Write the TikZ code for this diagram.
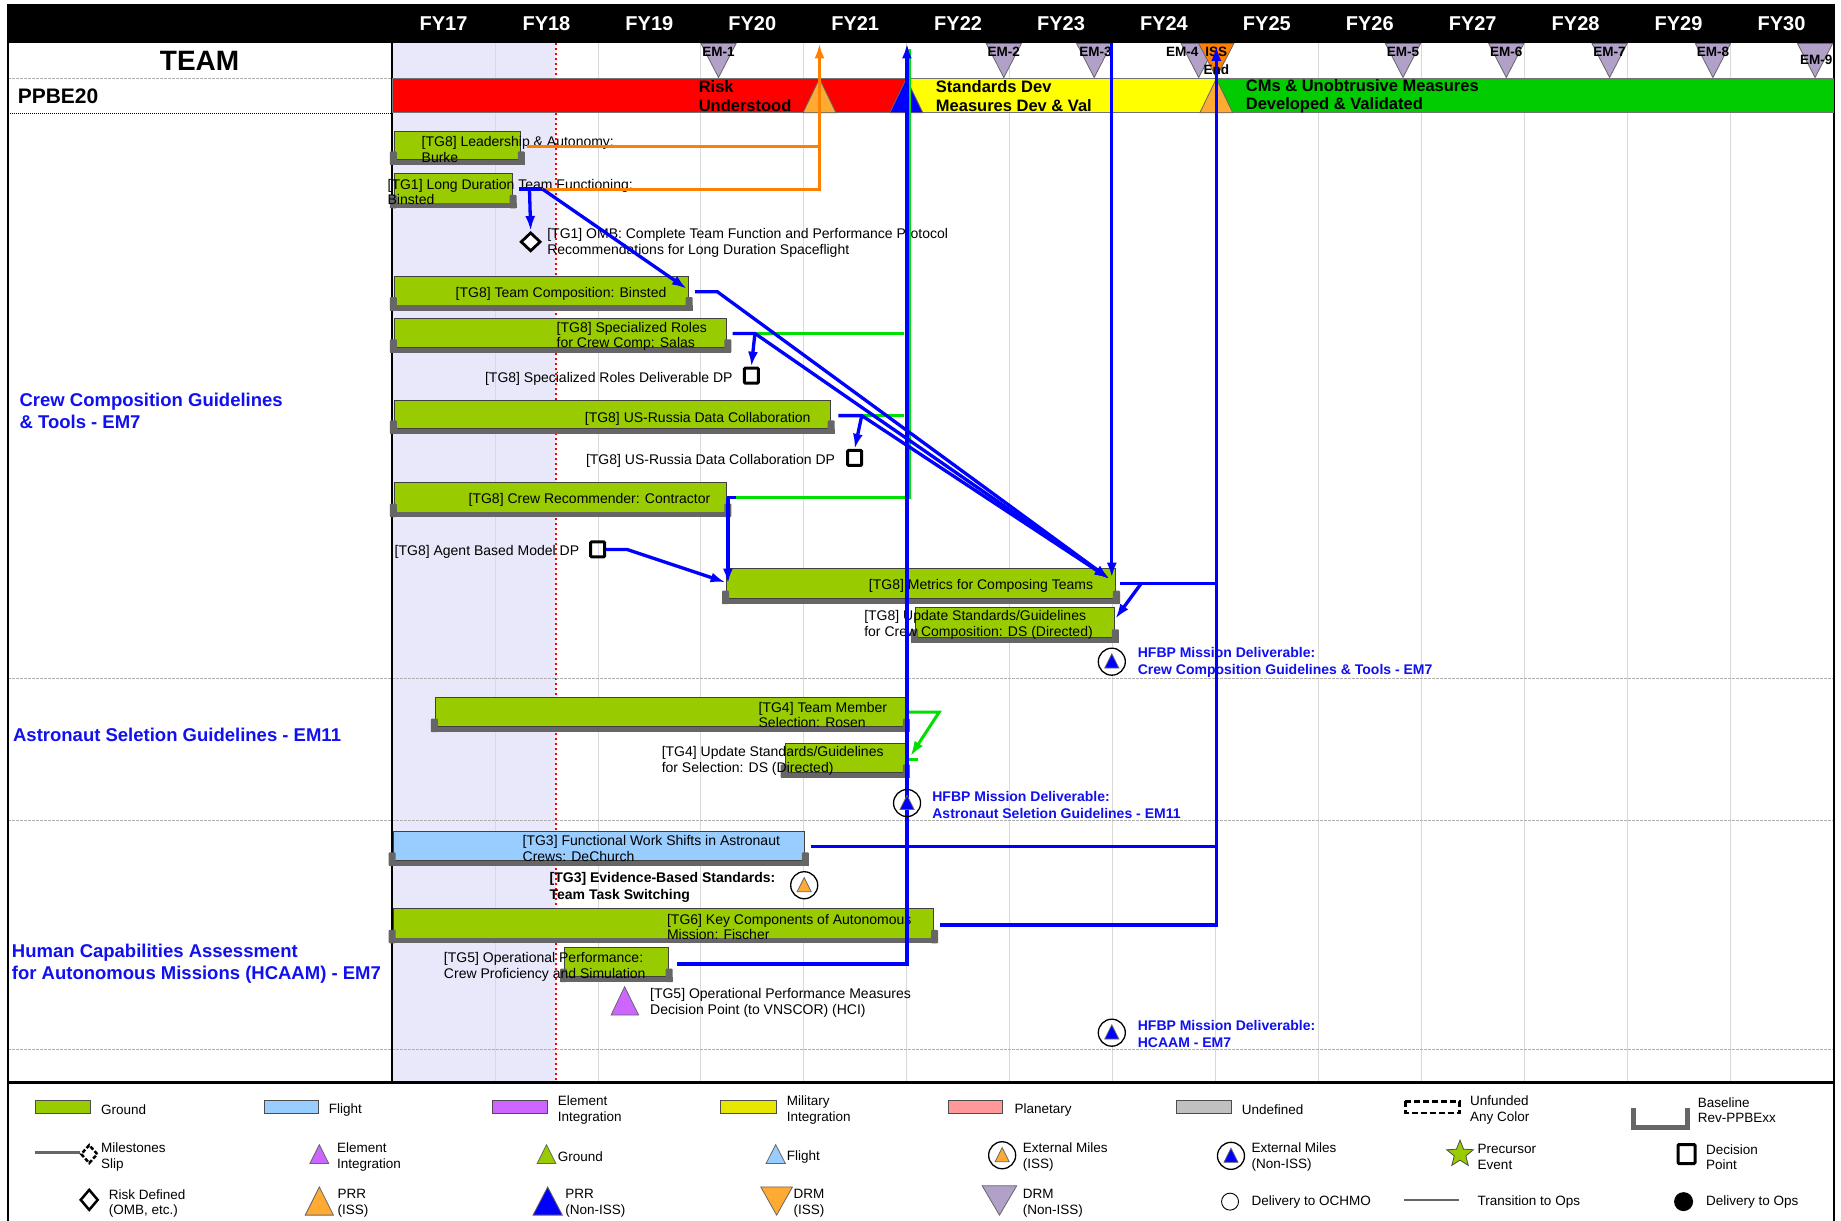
\documentclass[tikz,border=0pt]{standalone}
\usepackage{fontspec}
\setmainfont{Liberation Sans}
\usetikzlibrary{arrows.meta,shapes.geometric,fit,calc}
\definecolor{gnd}{HTML}{99CC00}
\definecolor{flt}{HTML}{99CCFF}
\definecolor{elem}{HTML}{CC66FF}
\definecolor{mil}{HTML}{E6E600}
\definecolor{plan}{HTML}{FF9999}
\definecolor{undef}{HTML}{C0C0C0}
\definecolor{basegray}{HTML}{666666}
\definecolor{lilac}{HTML}{B1A0C7}
\definecolor{prro}{HTML}{FFAA33}
\definecolor{issend}{HTML}{FF8000}
\definecolor{lav}{HTML}{E8E8FA}
\definecolor{conblue}{HTML}{0000FF}
\definecolor{congreen}{HTML}{00E000}
\definecolor{conorange}{HTML}{FF8000}
\definecolor{barred}{HTML}{FF0000}
\definecolor{baryel}{HTML}{FFFF00}
\definecolor{bargrn}{HTML}{00CC00}
\definecolor{hfblue}{HTML}{1010F0}
\definecolor{gridc}{HTML}{D9D9D9}
\definecolor{secline}{HTML}{B0B0B0}
\newcommand\taskbar[6]{%
  \node[fit={(#2,#3) (#4,#5)}, inner sep=0pt, fill=#6, draw=black!75, line width=0.7pt] (#1) {};
  \fill[basegray, rounded corners=1pt] (#2-4,#5-7) rectangle (#2+2,#5+4.5);
  \fill[basegray, rounded corners=1pt] (#4-2,#5-7) rectangle (#4+4,#5+4.5);
  \fill[basegray] (#2-4,#5) rectangle (#4+4,#5+4.5);
}
\begin{document}
\begin{tikzpicture}[x=1.174pt,y=-1.174pt,
 tbase/.style={font=\fontsize{14}{15.8}\selectfont, inner sep=0pt, anchor=west, align=left},
 tx/.style={tbase, yshift=-1.8pt},
 tb/.style={tx, font=\bfseries\fontsize{14}{16.5}\selectfont},
 hf/.style={tbase, font=\bfseries\fontsize{14}{17}\selectfont, text=hfblue},
 sec/.style={tbase, font=\bfseries\fontsize{18.5}{21.5}\selectfont, text=hfblue},
 bart/.style={tbase, font=\bfseries\fontsize{16.5}{18.8}\selectfont},
 fy/.style={font=\bfseries\fontsize{20}{24}\selectfont, text=white, inner sep=0pt},
 em/.style={font=\bfseries\fontsize{13.5}{14}\selectfont, inner sep=0pt},
 lg/.style={tbase, font=\fontsize{13.5}{15.3}\selectfont},
 bl/.style={draw=conblue, line width=3.3pt},
 bla/.style={bl, -{Latex[length=15pt,width=10pt]}},
 gl/.style={draw=congreen, line width=3pt},
 gla/.style={gl, -{Latex[length=15pt,width=10pt]}},
 ol/.style={draw=conorange, line width=3pt},
 ola/.style={ol, -{Latex[length=15pt,width=10pt]}},
 dpt/.style={draw, line width=3pt, minimum width=14pt, minimum height=15pt, inner sep=0pt, rounded corners=1pt},
 extm/.style={circle, draw, line width=1.3pt, minimum size=27pt, inner sep=0pt, fill=white},
 swatch/.style={draw=black!70, line width=0.8pt, inner sep=0pt},
 tri/.style={draw=black!60, line width=0.8pt}
]
\useasboundingbox (0,0) rectangle (1568.1,1039.2);
\fill[white] (0,0) rectangle (1568.1,1039.2);
% ---------- background ----------
\fill[lav] (334,37) rectangle (474,922);
\foreach \k in {1,...,13} \draw[gridc, line width=0.9pt] (334+\k*87.66,37) -- (334+\k*87.66,922);
\draw[red, line width=2pt, dash pattern=on 2pt off 3pt] (474,37) -- (474,922);
\foreach \yy in {67,578,699,894} \draw[secline, line width=1.5pt, dash pattern=on 3pt off 1pt] (7,\yy) -- (1562,\yy);
\draw[black, line width=1pt, dash pattern=on 1pt off 1pt] (7,97) -- (334,97);
% ---------- header ----------
\fill[black] (6,3) rectangle (1563,37);
\foreach \i [count=\k from 0] in {17,...,30} \node[fy] (fy\i) at (377.8+\k*87.66,20) {FY\i};
\draw[line width=1.5pt] (7,37) -- (7,1040);
\draw[line width=1.5pt] (1562,37) -- (1562,1040);
\draw[line width=2.5pt] (334,37) -- (334,922);
\draw[line width=2.5pt] (7,922) -- (1562,922);
\node[font=\bfseries\fontsize{28}{30}\selectfont, inner sep=0pt] (team) at (170,52) {TEAM};
\node[tbase, font=\bfseries\fontsize{21}{24}\selectfont] (ppbe) at (15,82) {PPBE20};
% ---------- milestones ----------
\foreach \x in {612,855,932,1021,1195,1283,1371,1459,1546}
  \draw[tri, fill=lilac] (\x-15,37) -- (\x+15,37) -- (\x,66) -- cycle;
\draw[tri, fill=issend] (1021,37) -- (1051,37) -- (1036,66) -- cycle;
\node[em] (em1) at (612,44.5) {EM-1};
\node[em] (em2) at (855,44.5) {EM-2};
\node[em] (em3) at (933,44.5) {EM-3};
\node[em, anchor=east] (em4) at (1021,44.5) {EM-4};
\node[em] (iss) at (1036,44.5) {ISS};
\node[em] (issend) at (1036,59) {End};
\node[em] (em5) at (1195,44.5) {EM-5};
\node[em] (em6) at (1283,44.5) {EM-6};
\node[em] (em7) at (1371,44.5) {EM-7};
\node[em] (em8) at (1459,44.5) {EM-8};
\node[em] (em9) at (1547,51) {EM-9};
% ---------- phase bar ----------
\node[fit={(334,67) (772,96)}, inner sep=0pt, fill=barred, draw=black!55, line width=0.8pt] (ph1) {};
\node[fit={(772,67) (1035,96)}, inner sep=0pt, fill=baryel, draw=black!55, line width=0.8pt] (ph2) {};
\node[fit={(1035,67) (1562,96)}, inner sep=0pt, fill=bargrn, draw=black!55, line width=0.8pt] (ph3) {};
\draw[tri, fill=prro] (684,96) -- (712,96) -- (698,67) -- cycle;
\draw[tri, fill=conblue] (758,96) -- (786,96) -- (772,67) -- cycle;
\draw[tri, fill=prro] (1022,96) -- (1050,96) -- (1036,67) -- cycle;
\node[bart] (ph1t) at (595,82) {Risk\\Understood};
\node[bart] (ph2t) at (797,82) {Standards Dev\\Measures Dev \& Val};
\node[bart] (ph3t) at (1061,82) {CMs \& Unobtrusive Measures\\Developed \& Validated};
% ---------- section labels ----------
\node[sec] (s1) at (16.5,350) {Crew Composition Guidelines\\\& Tools - EM7};
\node[sec] (s2) at (11,626) {Astronaut Seletion Guidelines - EM11};
\node[sec] (s3) at (10,821) {Human Capabilities Assessment\\for Autonomous Missions (HCAAM) - EM7};
% ---------- task bars ----------
\taskbar{lead}{336}{112}{443}{136}{gnd}
\taskbar{ldtf}{336}{148}{436}{173}{gnd}
\taskbar{tcomp}{336}{235}{586}{260}{gnd}
\taskbar{sroles}{336}{271}{619}{296}{gnd}
\taskbar{usru}{336}{341}{707}{365}{gnd}
\taskbar{crec}{336}{411}{619}{436}{gnd}
\taskbar{metr}{619}{484}{950}{510}{gnd}
\taskbar{updc}{780}{517}{949}{543}{gnd}
\taskbar{tmem}{371}{594}{771}{619}{gnd}
\taskbar{upds}{669}{633}{771}{658}{gnd}
\taskbar{fws}{335}{708}{685}{733}{flt}
\taskbar{keyc}{335}{774}{795}{799}{gnd}
\taskbar{oper}{481}{807}{569}{832}{gnd}
% ---------- task texts ----------
\node[tx] (tLead) at (359,126) {[TG8] Leadership \& Autonomy:\\Burke};
\node[tx] (tTG1) at (330,162) {[TG1] Long Duration Team Functioning:\\Binsted};
\node[tx] (tOMB) at (466,205) {[TG1] OMB: Complete Team Function and Performance Protocol\\Recommendations for Long Duration Spaceflight};
\node[tx] (tTC) at (388,249) {[TG8] Team Composition: Binsted};
\node[tx] (tSR) at (474,285) {[TG8] Specialized Roles\\for Crew Comp: Salas};
\node[tx] (tSRdp) at (413,321) {[TG8] Specialized Roles Deliverable DP};
\node[tx] (tUR) at (498,355) {[TG8] US-Russia Data Collaboration};
\node[tx] (tURdp) at (499,391) {[TG8] US-Russia Data Collaboration DP};
\node[tx] (tCR) at (399,424) {[TG8] Crew Recommender: Contractor};
\node[tx] (tAB) at (336,468.5) {[TG8] Agent Based Model DP};
\node[tx] (tMT) at (740,497.5) {[TG8] Metrics for Composing Teams};
\node[tx] (tUC) at (736,531) {[TG8] Update Standards/Guidelines\\for Crew Composition: DS (Directed)};
\node[tx] (tTM) at (646,607.5) {[TG4] Team Member\\Selection: Rosen};
\node[tx] (tTU) at (563.5,646.5) {[TG4] Update Standards/Guidelines\\for Selection: DS (Directed)};
\node[tx] (tFW) at (445,721.5) {[TG3] Functional Work Shifts in Astronaut\\Crews: DeChurch};
\node[tb] (tEB) at (468,754.5) {[TG3] Evidence-Based Standards:\\Team Task Switching};
\node[tx] (tKC) at (568,788) {[TG6] Key Components of Autonomous\\Mission: Fischer};
\node[tx] (tOP) at (378,822) {[TG5] Operational Performance:\\Crew Proficiency and Simulation};
\node[tx] (tOM) at (553.6,853) {[TG5] Operational Performance Measures\\Decision Point (to VNSCOR) (HCI)};
\node[hf] (hf1) at (969,564.5) {HFBP Mission Deliverable:\\Crew Composition Guidelines \& Tools - EM7};
\node[hf] (hf2) at (794,685.5) {HFBP Mission Deliverable:\\Astronaut Seletion Guidelines - EM11};
\node[hf] (hf3) at (969,880.5) {HFBP Mission Deliverable:\\HCAAM - EM7};
% ---------- milestone symbols ----------
\node[diamond, draw, line width=2.8pt, minimum width=20pt, minimum height=19pt, inner sep=0pt, fill=white] (omb) at (452,206) {};
\node[dpt] (dp1) at (640,320) {};
\node[dpt] (dp2) at (728,390) {};
\node[dpt] (dp3) at (509,468) {};
\node[extm] (ex1) at (947,563.6) {};
\draw[tri, fill=conblue] (941,569) -- (953,569) -- (947,557) -- cycle;
\node[extm] (ex3) at (947,879.6) {};
\draw[tri, fill=conblue] (941,885) -- (953,885) -- (947,873) -- cycle;
\node[extm] (ex4) at (685,754) {};
\draw[tri, fill=prro] (679,759.5) -- (691,759.5) -- (685,747.5) -- cycle;
\draw[tri, fill=elem] (520.5,864.6) -- (544,864.6) -- (532,840.5) -- cycle;
% ---------- connectors: green ----------
\coordinate (gSR) at (643,284);
\coordinate (gUR) at (734,354);
\coordinate (gCR) at (627,424);
\coordinate (gV) at (774.5,424);
\coordinate (gVt) at (774.5,42);
\draw[gl] (gSR) -- (770,284);
\draw[gl] (gUR) -- (770,354);
\draw[gl] (gCR) -- (gV) -- (gVt);
\coordinate (gTM) at (774,606.5);
\coordinate (gTMb) at (800,606.5);
\coordinate (gTU) at (775.5,644);
\draw[gla] (gTM) -- (gTMb) -- (gTU);
\draw[gl] (774,646.5) -- (782,646.5);
% ---------- connectors: orange ----------
\coordinate (oL) at (449,125);
\coordinate (oLe) at (698,125);
\coordinate (oT) at (462,161);
\coordinate (oC) at (698,161);
\coordinate (oTop) at (698,37);
\draw[ol] (oL) -- (oLe);
\draw[ola] (oT) -- (oC) -- (oTop);
% ---------- connectors: blue ----------
\coordinate (b1s) at (442,161);
\coordinate (b1d) at (451,161);
\draw[bl] (b1s) -- (oT);
\draw[bla] (b1d) -- (omb.north);
\coordinate (tcE) at (585,246);
\draw[bla] (oT) -- (tcE);
\coordinate (mE) at (945,493);
\coordinate (tcS) at (592,248.5);
\coordinate (tcK) at (611,248.5);
\draw[bla] (tcS) -- (tcK) -- (mE);
\coordinate (srS) at (624,284);
\draw[bla] (srS) -- (gSR) -- (mE);
\draw[bla] (gSR) -- (dp1.north);
\coordinate (urS) at (714,354);
\draw[bla] (urS) -- (gUR) -- (mE);
\draw[bla] (gUR) -- (dp2.north);
\coordinate (crS) at (619,424);
\coordinate (crD) at (620,424);
\coordinate (mW) at (620,497);
\draw[bl] (crS) -- (gCR);
\draw[bla] (crD) -- (mW);
\coordinate (abK) at (534,468);
\coordinate (mW2) at (618,496);
\draw[bla] (dp3.east) -- (abK) -- (mW2);
\coordinate (v947t) at (947,37);
\coordinate (v947b) at (947,492);
\draw[bla] (v947t) -- (v947b);
\coordinate (mR) at (954,497);
\coordinate (mRk) at (972,497);
\coordinate (v1036m) at (1036,497);
\coordinate (ucE) at (950,527);
\draw[bl] (mR) -- (v1036m);
\draw[bla] (mRk) -- (ucE);
\coordinate (fwE) at (691,721);
\coordinate (v1036f) at (1036,721);
\draw[bl] (fwE) -- (v1036f);
\coordinate (kcE) at (801,788);
\coordinate (v1036b) at (1036,788);
\coordinate (v1036t) at (1036,39);
\draw[bla] (kcE) -- (v1036b) -- (v1036t);
\coordinate (opE) at (577,821);
\coordinate (v772b) at (772.5,821);
\coordinate (v772t) at (772.5,37);
\draw[bla] (opE) -- (v772b) -- (v772t);
\node[extm, fill=none] (ex2) at (772.6,684) {};
\draw[tri, fill=conblue] (766.6,689.5) -- (778.6,689.5) -- (772.6,677.5) -- cycle;
% ---------- legend ----------
\node[fit={(30,937) (77,948)}, swatch, fill=gnd] (lg1) {};
\node[lg] (lg1t) at (86,945.5) {Ground};
\node[fit={(225,937) (271.5,948)}, swatch, fill=flt] (lg2) {};
\node[lg] (lg2t) at (280,945.5) {Flight};
\node[fit={(419,937) (466,948)}, swatch, fill=elem] (lg3) {};
\node[lg] (lg3t) at (475,945.5) {Element\\Integration};
\node[fit={(614,937) (661,948)}, swatch, fill=mil] (lg4) {};
\node[lg] (lg4t) at (670,945.5) {Military\\Integration};
\node[fit={(807.5,937) (853.5,948)}, swatch, fill=plan] (lg5) {};
\node[lg] (lg5t) at (864,945.5) {Planetary};
\node[fit={(1002,937) (1048.6,948)}, swatch, fill=undef] (lg6) {};
\node[lg] (lg6t) at (1057.6,945.5) {Undefined};
\draw[line width=2.5pt, dash pattern=on 6pt off 3pt] (1197,938) rectangle (1243,948);
\node[lg] (lg7t) at (1252,945.5) {Unfunded\\Any Color};
\draw[basegray, line width=4.5pt] (1391.5,944) -- (1391.5,960.5) -- (1437.5,960.5) -- (1437.5,944);
\node[lg] (lg8t) at (1446,945.5) {Baseline\\Rev-PPBExx};
% row 2
\draw[basegray, line width=3pt] (30,982) -- (68,982);
\node[diamond, draw, line width=2.5pt, dash pattern=on 4pt off 2pt, minimum width=17pt, minimum height=19pt, inner sep=0pt] (lgms) at (76,983) {};
\node[lg] (lg9t) at (86,985.5) {Milestones\\Slip};
\draw[tri, fill=elem] (264,991) -- (280,991) -- (272,975) -- cycle;
\node[lg] (lg10t) at (287,985.5) {Element\\Integration};
\draw[tri, fill=gnd] (457.5,991) -- (473.5,991) -- (465.5,975) -- cycle;
\node[lg] (lg11t) at (475,985.5) {Ground};
\draw[tri, fill=flt] (652.5,991) -- (669,991) -- (660.7,975) -- cycle;
\node[lg] (lg12t) at (670,985.5) {Flight};
\node[extm] (lgex1) at (853.6,984) {};
\draw[tri, fill=prro] (847.6,989.5) -- (859.6,989.5) -- (853.6,977.5) -- cycle;
\node[lg] (lg13t) at (871,985.5) {External Miles\\(ISS)};
\node[extm] (lgex2) at (1048.5,984.5) {};
\draw[tri, fill=conblue] (1042.5,990) -- (1054.5,990) -- (1048.5,978) -- cycle;
\node[lg] (lg14t) at (1066,985.5) {External Miles\\(Non-ISS)};
\node[star, star points=5, star point ratio=2.3, fill=gnd, draw=black!70, line width=0.8pt, minimum size=28pt, inner sep=0pt] (lgstar) at (1243.6,983) {};
\node[lg] (lg15t) at (1258.5,985.5) {Precursor\\Event};
\node[dpt, minimum width=17pt, minimum height=19pt] (lgdp) at (1436.5,983) {};
\node[lg] (lg16t) at (1453,985.5) {Decision\\Point};
% row 3
\node[diamond, draw, line width=2.5pt, minimum width=18pt, minimum height=21pt, inner sep=0pt] (lgrd) at (76,1022) {};
\node[lg] (lg17t) at (92.5,1025) {Risk Defined\\(OMB, etc.)};
\draw[tri, fill=prro] (260,1035) -- (284,1035) -- (272,1011) -- cycle;
\node[lg] (lg18t) at (287.4,1025) {PRR\\(ISS)};
\draw[tri, fill=conblue] (454,1035) -- (479,1035) -- (466.5,1011) -- cycle;
\node[lg] (lg19t) at (481.4,1025) {PRR\\(Non-ISS)};
\draw[tri, fill=prro] (648,1011) -- (675,1011) -- (661.5,1035) -- cycle;
\node[lg] (lg20t) at (675.8,1025) {DRM\\(ISS)};
\draw[tri, fill=lilac] (836.6,1010) -- (866,1010) -- (851.3,1035) -- cycle;
\node[lg] (lg21t) at (871,1025) {DRM\\(Non-ISS)};
\node[circle, draw, line width=0.9pt, minimum size=17pt, inner sep=0pt] (lgoch) at (1047.7,1023.5) {};
\node[lg] (lg22t) at (1066,1024) {Delivery to OCHMO};
\draw[basegray, line width=1.5pt] (1196,1022) -- (1243,1022);
\node[lg] (lg23t) at (1258.5,1024) {Transition to Ops};
\node[circle, fill=black, minimum size=19pt, inner sep=0pt] (lgops) at (1434,1023.5) {};
\node[lg] (lg24t) at (1453,1024) {Delivery to Ops};
\end{tikzpicture}
\end{document}
